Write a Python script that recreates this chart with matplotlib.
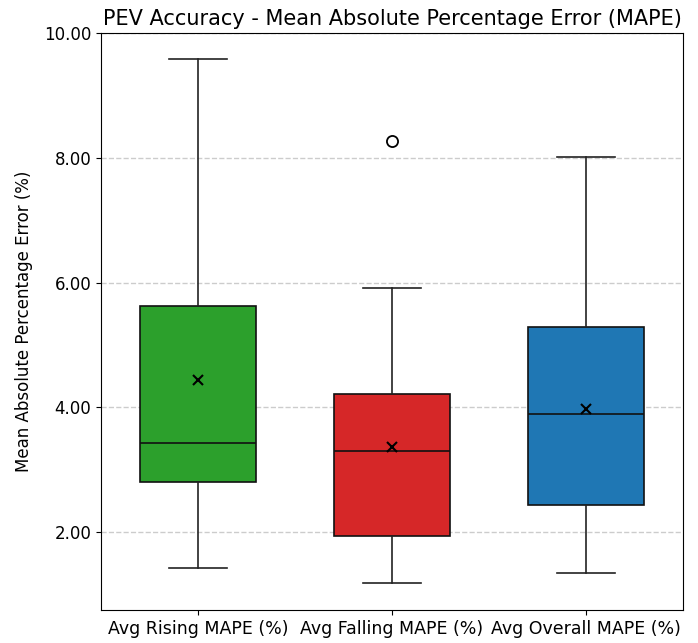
import matplotlib

matplotlib.use("Agg")
import matplotlib.pyplot as plt  # noqa: E402

# per-metric box statistics (MAPE, %)
labels = ["Avg Rising MAPE (%)", "Avg Falling MAPE (%)", "Avg Overall MAPE (%)"]
whislo = [1.42, 1.18, 1.34]
q1 = [2.80, 1.94, 2.43]
med = [3.42, 3.30, 3.90]
q3 = [5.63, 4.21, 5.28]
whishi = [9.59, 5.92, 8.02]
means = [4.43, 3.37, 3.97]
fliers = [[], [8.27], []]
colors = ["#2ca02c", "#d62728", "#1f77b4"]

stats = [
    {"label": lab, "whislo": lo, "q1": a, "med": m, "q3": b, "whishi": hi,
     "mean": mu, "fliers": fl}
    for lab, lo, a, m, b, hi, mu, fl in zip(labels, whislo, q1, med, q3, whishi, means, fliers)
]

fig = plt.figure(figsize=(6.98, 6.43), dpi=100)
ax = fig.add_axes([101 / 698, 1 - 610 / 643, 582 / 698, 577 / 643])

lw = 1.2
bp = ax.bxp(
    stats, widths=0.6, patch_artist=True, showmeans=True,
    boxprops=dict(edgecolor="#111111", linewidth=lw),
    medianprops=dict(color="#111111", linewidth=lw),
    whiskerprops=dict(color="#222222", linewidth=lw),
    capprops=dict(color="#222222", linewidth=lw),
    meanprops=dict(marker="x", markeredgecolor="black", markersize=7, markeredgewidth=1.5),
    flierprops=dict(marker="o", markerfacecolor="none", markeredgecolor="black",
                    markersize=8, markeredgewidth=1.3),
)
for patch, c in zip(bp["boxes"], colors):
    patch.set_facecolor(c)

ax.set_ylim(0.75, 10.0)
ax.set_xlim(0.5, 3.5)
ax.yaxis.set_major_formatter(matplotlib.ticker.FormatStrFormatter("%.2f"))
ax.grid(axis="y", linestyle="--", color="#cccccc", linewidth=1)
ax.set_axisbelow(True)
ax.tick_params(axis="x", labelsize=12.5)
ax.tick_params(axis="y", labelsize=12)
ax.set_ylabel("Mean Absolute Percentage Error (%)", fontsize=12, labelpad=8)
ax.set_title("PEV Accuracy - Mean Absolute Percentage Error (MAPE)", fontsize=15, pad=6)

fig.savefig("out.png", dpi=100)
